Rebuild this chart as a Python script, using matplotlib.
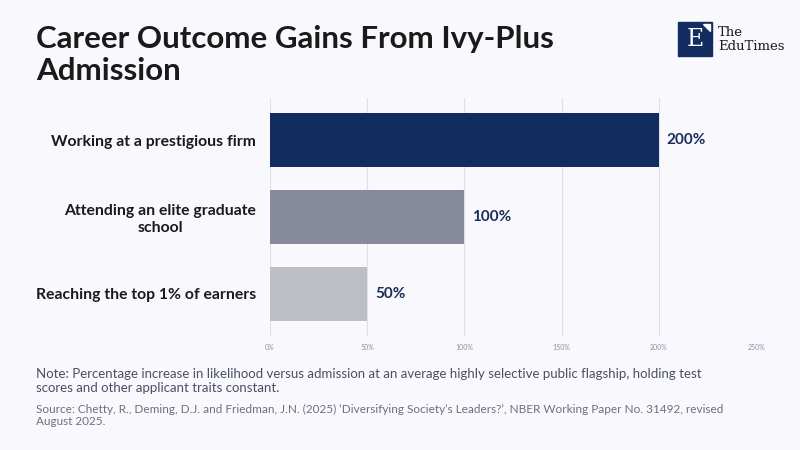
import matplotlib.pyplot as plt
from matplotlib.patches import Rectangle, Polygon

categories = ['Working at a prestigious firm', 'Attending an elite graduate\nschool', 'Reaching the top 1% of earners']
gains = [200, 100, 50]
bar_colors = ['#132c60', '#878a9c', '#bdbfc5']
ticks = [0, 50, 100, 150, 200, 250]
tick_labels = ['0%', '50%', '100%', '150%', '200%', '250%']

BG = '#f9f9fd'
NAVY = '#132c60'

plt.rcParams['font.family'] = ['Lato', 'DejaVu Sans']

fig = plt.figure(figsize=(8, 4.5), dpi=100, facecolor=BG)
ax = fig.add_axes([270 / 800, 1 - 336 / 450, (756 - 270) / 800, 238 / 450])
ax.set_facecolor(BG)

y = list(range(len(categories)))
ax.barh(y, gains, height=0.7, color=bar_colors, zorder=3)
for yi, g in zip(y, gains):
    ax.text(g + 4, yi, f'{g}%', va='center', ha='left', fontsize=11,
            fontweight='bold', color='#1a2e5a')

ax.set_yticks(y)
ax.set_yticklabels(categories, fontsize=11.3, fontweight='bold', color='#1a1a1a',
                   multialignment='center')
ax.set_ylim(2.55, -0.55)
ax.set_xlim(0, 250)
ax.set_xticks(ticks)
ax.set_xticklabels(tick_labels, fontsize=5, color='#8a90a8')
ax.tick_params(axis='both', length=0)
ax.tick_params(axis='y', pad=10)
ax.tick_params(axis='x', pad=6)
ax.grid(axis='x', color='#dde1ea', linewidth=0.8, zorder=0)
for s in ax.spines.values():
    s.set_visible(False)

fig.text(36 / 800, 1 - 55 / 450, 'Career Outcome Gains From Ivy-Plus\nAdmission', fontsize=22.5,
         fontweight='bold', color='#1a1a1a', va='center', ha='left', linespacing=1.18)

# logo
fig.patches.append(Rectangle((678 / 800, 1 - 56 / 450), 34 / 800, 34 / 450,
                             transform=fig.transFigure, color=NAVY))
fig.patches.append(Polygon([(703 / 800, 1 - 24 / 450), (710 / 800, 1 - 24 / 450),
                            (710 / 800, 1 - 31 / 450)], transform=fig.transFigure, color='white'))
fig.text(695 / 800, 1 - 40 / 450, 'E', fontsize=17, family='DejaVu Serif', color='white',
         ha='center', va='center')
fig.text(718 / 800, 1 - 32 / 450, 'The', fontsize=9.5, family='DejaVu Serif', color='#1a1a1a',
         va='center', ha='left')
fig.text(718 / 800, 1 - 47 / 450, 'EduTimes', fontsize=9.5, family='DejaVu Serif', color='#1a1a1a',
         va='center', ha='left')

fig.text(36 / 800, 1 - 381 / 450,
         'Note: Percentage increase in likelihood versus admission at an average highly selective public flagship, holding test\nscores and other applicant traits constant.',
         fontsize=9.5, color='#4a4f63', va='center', ha='left', linespacing=1.15)
fig.text(36 / 800, 1 - 415.5 / 450,
         'Source: Chetty, R., Deming, D.J. and Friedman, J.N. (2025) \u2018Diversifying Society\u2019s Leaders?\u2019, NBER Working Paper No. 31492, revised\nAugust 2025.',
         fontsize=8.5, color='#6a6f80', va='center', ha='left', linespacing=1.2)

fig.savefig('out.png', dpi=100, facecolor=BG)
